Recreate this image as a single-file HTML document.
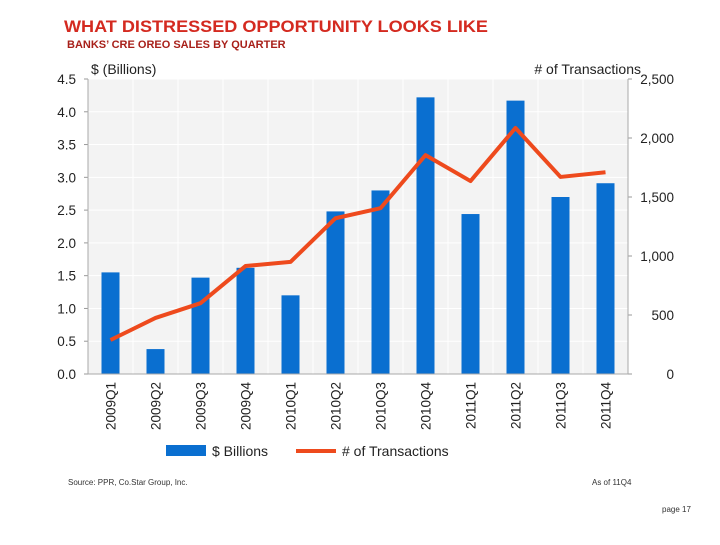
<!DOCTYPE html>
<html><head><meta charset="utf-8"><style>
body{margin:0;background:#fff;width:720px;height:540px;overflow:hidden;font-family:"Liberation Sans",sans-serif}
</style></head><body>
<svg width="720" height="540" xmlns="http://www.w3.org/2000/svg">
<text x="64" y="32" font-size="17" font-weight="bold" fill="#d42a20" textLength="424" lengthAdjust="spacingAndGlyphs">WHAT DISTRESSED OPPORTUNITY LOOKS LIKE</text>
<text x="67" y="48" font-size="11" font-weight="bold" fill="#a8201a">BANKS’ CRE OREO SALES BY QUARTER</text>
<rect x="88" y="79" width="540" height="295" fill="#f3f3f3"/>
<g id="grid"></g>
<g id="bars"></g>
<g id="line"></g>
<g id="axes"></g>
<text x="91" y="74" font-size="14" fill="#222">$ (Billions)</text>
<text x="641" y="74" font-size="14" fill="#222" text-anchor="end"># of Transactions</text>
<rect x="166" y="445" width="40" height="11" fill="#0a6fd0"/>
<text x="212" y="456" font-size="14" fill="#222">$ Billions</text>
<line x1="296" y1="451" x2="336" y2="451" stroke="#ee4a1d" stroke-width="4"/>
<text x="342" y="456" font-size="14" fill="#222"># of Transactions</text>
<text x="68" y="485" font-size="8" fill="#333">Source: PPR, Co.Star Group, Inc.</text>
<text x="592" y="485" font-size="8" fill="#333">As of 11Q4</text>
<text x="662" y="512" font-size="8" fill="#333">page 17</text>
</svg>
<script>
const categories=["2009Q1","2009Q2","2009Q3","2009Q4","2010Q1","2010Q2","2010Q3","2010Q4","2011Q1","2011Q2","2011Q3","2011Q4"];
const billions=[1.55,0.38,1.47,1.62,1.20,2.48,2.80,4.22,2.44,4.17,2.70,2.91];
const transactions=[288,475,600,915,950,1320,1405,1855,1635,2085,1670,1710];
const leftTicks=["0.0","0.5","1.0","1.5","2.0","2.5","3.0","3.5","4.0","4.5"];
const rightTicks=["0","500","1,000","1,500","2,000","2,500"];
const NS="http://www.w3.org/2000/svg";
const X0=88,X1=628,Y0=374,Y1=79;
const yL=v=>Y0-(v/4.5)*(Y0-Y1);
const yR=v=>Y0-(v/2500)*(Y0-Y1);
const step=(X1-X0)/categories.length;
const xC=i=>X0+step*(i+0.5);
function mk(tag,attrs,parent){const e=document.createElementNS(NS,tag);for(const k in attrs)e.setAttribute(k,attrs[k]);document.getElementById(parent).appendChild(e);return e;}
leftTicks.forEach(t=>{const v=parseFloat(t),y=yL(v);
 const g=mk('line',{x1:X0,x2:X1,y1:y,y2:y,stroke:'#fff','stroke-width':1},'grid');
 
 
 const tk=mk('line',{x1:X0-4,x2:X0,y1:y,y2:y,stroke:'#999'},'axes');
 
 
 const l=mk('text',{x:76,y:y+5,'font-size':13.5,fill:'#222','text-anchor':'end'},'axes');l.textContent=t;
 
 
});
rightTicks.forEach(t=>{const v=parseFloat(t.replace(',','')),y=yR(v);
 const tk=mk('line',{x1:X1,x2:X1+4,y1:y,y2:y,stroke:'#999'},'axes');
 
 
 const l=mk('text',{x:674,y:y+5,'font-size':13.5,fill:'#222','text-anchor':'end'},'axes');l.textContent=t;
 
 
});
for(let i=0;i<=categories.length;i++){const x=X0+step*i;
 const g=mk('line',{x1:x,x2:x,y1:Y1,y2:Y0,stroke:'#fff'},'grid');
 
 }
categories.forEach((c,i)=>{
 const b=mk('rect',{x:xC(i)-9,y:yL(billions[i]),width:18,height:Y0-yL(billions[i]),fill:'#0a6fd0'},'bars');
 
 
 const x=xC(i)+5;
 const l=mk('text',{x:x,y:382,'font-size':13.5,fill:'#222','text-anchor':'end',transform:`rotate(-90 ${x} 382)`},'axes');l.textContent=c;
 
 
});
const pts=transactions.map((v,i)=>xC(i)+','+yR(v)).join(' ');
const pl=mk('polyline',{points:pts,fill:'none',stroke:'#ee4a1d','stroke-width':4,'stroke-linejoin':'round'},'line');


[[X0,Y1,X0,Y0],[X1,Y1,X1,Y0],[X0,Y0,X1,Y0]].forEach(a=>{
 const l=mk('line',{x1:a[0],y1:a[1],x2:a[2],y2:a[3],stroke:'#aaa'},'axes');
 
 });
</script>
</body></html>
